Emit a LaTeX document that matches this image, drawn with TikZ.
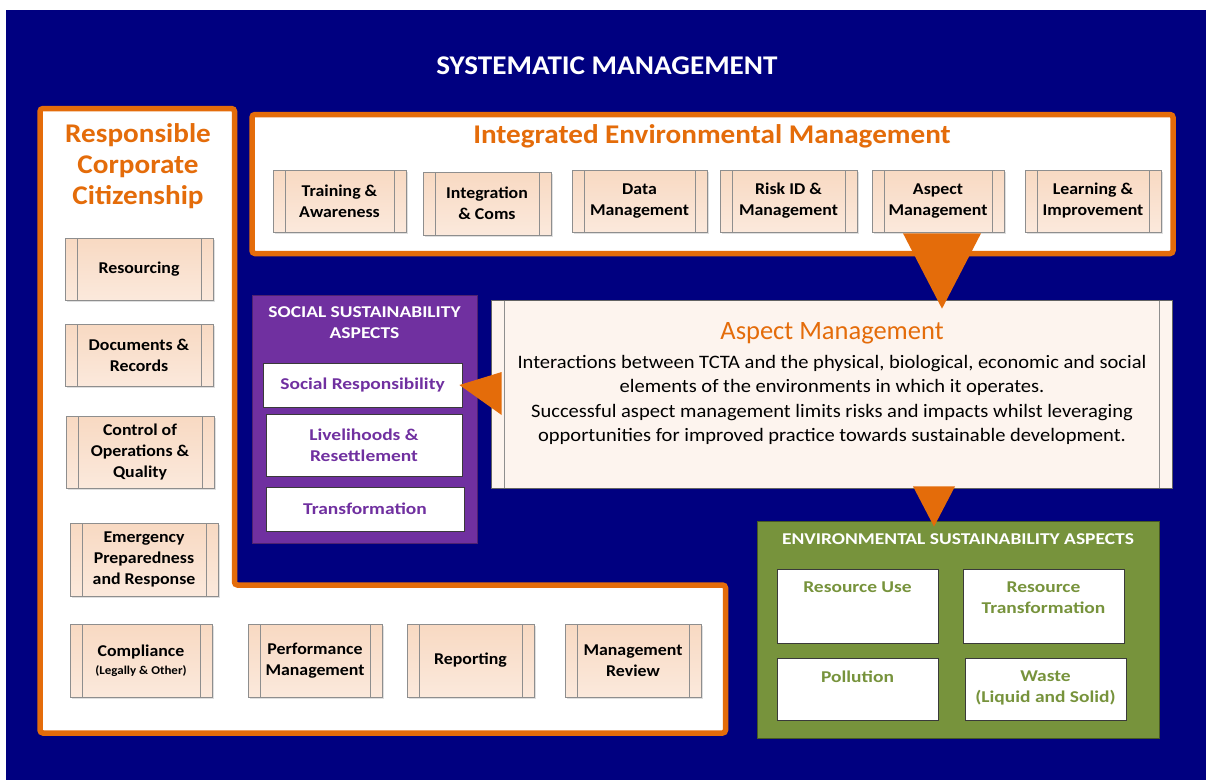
\documentclass[tikz,border=0pt]{standalone}
\usepackage{fontspec}
\setmainfont{Carlito}[FakeStretch=1.08]
\newfontfamily\plainfont{Carlito}
\newfontfamily\widefont{Carlito}[FakeStretch=1.18]
\usetikzlibrary{calc,shadows}

\definecolor{navy}{HTML}{000080}
\definecolor{accent}{HTML}{E46C0A}
\definecolor{procline}{HTML}{8E8E8E}
\definecolor{peachtop}{HTML}{F8D9C2}
\definecolor{peachbot}{HTML}{FBE9DC}
\definecolor{cream}{HTML}{FDF4EE}
\definecolor{socpurple}{HTML}{7030A0}
\definecolor{envgreen}{HTML}{77933C}
\definecolor{boxedge}{HTML}{3A3A3A}

\newcommand{\fsz}[2]{\fontsize{#1}{#2}\selectfont}

\begin{document}
\begin{tikzpicture}[x=1pt,y=-1pt,
  stripes/.style={path picture={
      \draw[procline, line width=0.7pt]
        ([xshift=#1]path picture bounding box.north west) -- ([xshift=#1]path picture bounding box.south west)
        ([xshift=-#1]path picture bounding box.north east) -- ([xshift=-#1]path picture bounding box.south east);}},
  proc/.style={draw=procline, line width=0.7pt, top color=peachtop, bottom color=peachbot,
      align=center, inner sep=0pt, text=black, font=\bfseries\fsz{16.5}{21},
      stripes=12pt, drop shadow={shadow xshift=1.5pt, shadow yshift=-1.5pt, opacity=0.25}},
  frame/.style={draw=accent, line width=5.5pt, fill=white, rounded corners=3pt},
  whitebox/.style={draw=boxedge, line width=0.9pt, fill=white, inner sep=0pt},
  headline/.style={text=white, font=\widefont\bfseries\fsz{16.5}{21}, align=center},
  socitem/.style={text=socpurple, font=\widefont\bfseries\fsz{16.5}{21}, align=center},
  envitem/.style={text=envgreen, font=\widefont\bfseries\fsz{16.5}{21}, align=center, anchor=north},
  pointer/.style={fill=accent}
]
\useasboundingbox (0,0) rectangle (1206,780);
\fill[white] (0,0) rectangle (1206,780);
\fill[navy] (6,10) rectangle (1206,780);

% overall heading
\node[text=white, font=\bfseries\fsz{27}{30}] (sysm) at (607,66) {SYSTEMATIC MANAGEMENT};

% Responsible Corporate Citizenship frame (L shaped)
\draw[frame] (40,108.5) -- (234.5,108.5) -- (234.5,585) -- (725.5,585) -- (725.5,733) -- (40,733) -- cycle;
\node[text=accent, font=\bfseries\fsz{27}{31}, align=center] (rcc) at (138,166) {Responsible\\Corporate\\Citizenship};

% Integrated Environmental Management frame
\draw[frame] (252,114.5) rectangle (1173,253.5);
\node[text=accent, font=\bfseries\fsz{27}{30}] (iem) at (712,136) {Integrated Environmental Management};

% top row of processes
\node[proc, minimum width=133pt, minimum height=62pt] (t1) at (339.5,201) {Training \&\\Awareness};
\node[proc, minimum width=128pt, minimum height=63pt] (t2) at (487,203.5) {Integration\\\& Coms};
\node[proc, minimum width=135pt, minimum height=62pt] (t3) at (639.5,201) {Data\\Management};
\node[proc, minimum width=137pt, minimum height=62pt] (t4) at (788.5,201) {Risk ID \&\\Management};
\node[proc, minimum width=132pt, minimum height=62pt] (t5) at (938,201) {Aspect\\Management};
\node[proc, minimum width=136pt, minimum height=62pt] (t6) at (1093,201) {Learning \&\\Improvement};

% left column of processes
\node[proc, minimum width=148pt, minimum height=62pt] (c1) at (139,269) {Resourcing};
\node[proc, minimum width=148pt, minimum height=62pt] (c2) at (139,355) {Documents \&\\Records};
\node[proc, minimum width=148pt, minimum height=72pt] (c3) at (140,452) {Control of\\Operations \&\\Quality};
\node[proc, minimum width=148pt, minimum height=73pt] (c4) at (144,559.5) {Emergency\\Preparedness\\and Response};

% bottom row of processes
\node[proc, minimum width=142pt, minimum height=73pt] (b1) at (141,660.5) {Compliance\\[-3pt]{\fsz{12}{14}(Legally \& Other)}};
\node[proc, minimum width=134pt, minimum height=73pt] (b2) at (315,660.5) {Performance\\Management};
\node[proc, minimum width=127pt, minimum height=73pt] (b3) at (470.5,660.5) {Reporting};
\node[proc, minimum width=136pt, minimum height=73pt] (b4) at (633,660.5) {Management\\Review};

% social sustainability aspects
\node[fill=socpurple, draw=socpurple!70!black, line width=0.8pt, minimum width=225pt, minimum height=248pt] (soc) at (364.5,419) {};
\node[headline] (soch) at (364.5,322.5) {SOCIAL SUSTAINABILITY\\ASPECTS};
\node[whitebox, socitem, minimum width=199pt, minimum height=44pt] (sr) at (362.5,385) {Social Responsibility};
\node[whitebox, socitem, minimum width=196pt, minimum height=62pt] (lr) at (364,445.5) {Livelihoods \&\\Resettlement};
\node[whitebox, socitem, minimum width=198pt, minimum height=44pt] (tr) at (365,509) {Transformation};

% aspect management description
\node[draw=procline!70!black, line width=0.7pt, fill=cream, stripes=13pt, minimum width=681pt, minimum height=188pt] (am) at (831.5,394) {};
\node[text=accent, font=\plainfont\fsz{26.5}{30}] (amt) at (832,333) {Aspect Management};
\node[text=black, font=\fsz{19}{24.5}, align=center] (amd) at (832,400) {Interactions between TCTA and the physical, biological, economic and social\\elements of the environments in which it operates.\\Successful aspect management limits risks and impacts whilst leveraging\\opportunities for improved practice towards sustainable development.};

% environmental sustainability aspects
\node[fill=envgreen, draw=envgreen!60!black, line width=0.8pt, minimum width=402pt, minimum height=217pt] (env) at (958,629.5) {};
\node[headline] (envh) at (958,539) {ENVIRONMENTAL SUSTAINABILITY ASPECTS};
\node[whitebox, minimum width=161pt, minimum height=74pt] (ru) at (857.5,606) {};
\node[whitebox, minimum width=161pt, minimum height=74pt] (rt) at (1043.5,606) {};
\node[whitebox, minimum width=161pt, minimum height=62pt] (po) at (857.5,689) {};
\node[whitebox, minimum width=161pt, minimum height=62pt] (wa) at (1045.5,689) {};
\node[envitem] (rut) at ($(ru.north)+(0,9.5)$) {Resource Use};
\node[envitem] (rtt) at ($(rt.north)+(0,9.5)$) {Resource\\Transformation};
\node[envitem] (pot) at ($(po.north)+(0,9.5)$) {Pollution};
\node[envitem] (wat) at ($(wa.north)+(0,9.5)$) {Waste\\(Liquid and Solid)};

% pointers between the parts
\fill[pointer] ($(t5.south)+(-35,1)$) -- ($(t5.south)+(43,1)$) -- ($(t5.south |- am.north)+(4,9)$) -- cycle;
\fill[pointer] ($(am.west)+(11,-22)$) -- ($(am.west)+(11,21)$) -- ($(sr.east)+(-3,0)$) -- cycle;
\fill[pointer] ($(am.south)+(81.5,-2)$) -- ($(am.south)+(123.5,-2)$) -- ($(env.north)+(-24,6)$) -- cycle;
\end{tikzpicture}
\end{document}
